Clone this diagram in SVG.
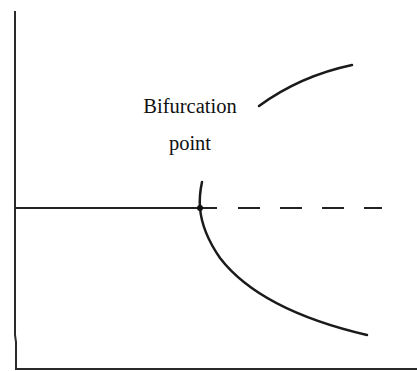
<svg xmlns="http://www.w3.org/2000/svg" width="417" height="371" viewBox="0 0 417 371">
<style>
.axis{stroke:#2a2a2a;stroke-width:2;fill:none}
.solid{stroke:#222;stroke-width:2.2;fill:none}
.dash{stroke:#222;stroke-width:2.2;fill:none;stroke-dasharray:22,20}
.curve{stroke:#1a1a1a;stroke-width:2.5;fill:none;stroke-linecap:round}
.lbl{font-family:"Liberation Serif","Times New Roman",serif;font-size:20.5px;fill:#111;text-anchor:middle}
</style>
<rect width="417" height="371" fill="#fff"/>
<g id="axes">
<path class="axis" d="M15,11 L15,335 L16,342 L16,369 L417,369"/>
</g>
<g id="connectors">
<path class="solid" d="M15,208 L217,208"/>
<path class="dash" d="M238,208 L382,208"/>
<path class="curve" d="M202,182 Q199,196 200,208 Q202,232 220,258 Q260,310 367,335"/>
<path class="curve" d="M259,106 Q300,76 352,65"/>
</g>
<g id="bifurcation-point">
<circle cx="200" cy="208" r="3" fill="#111"/>
<text class="lbl" x="190" y="113">Bifurcation</text>
<text class="lbl" x="190" y="150">point</text>
</g>
</svg>
